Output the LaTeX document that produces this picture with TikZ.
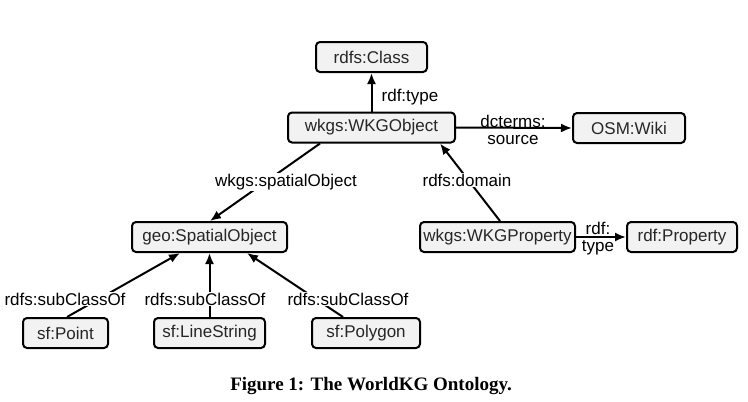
\documentclass[tikz,border=0pt]{standalone}
\usepackage{fontspec}
\setmainfont{Liberation Sans}
\newfontfamily\capfont{Liberation Serif}
\usetikzlibrary{arrows.meta}
\definecolor{boxfill}{HTML}{F2F2F2}
\tikzset{
  cbox/.style={draw=black, line width=2pt, rounded corners=4pt, fill=boxfill,
    minimum height=30pt, inner sep=0pt, font=\fontsize{17}{18}\selectfont, text=black!85},
  arr/.style={line width=2pt, -{Latex[length=11pt,width=9pt]}},
  lbl/.style={font=\fontsize{17}{18}\selectfont, inner sep=1pt, fill=white},
  lbl2/.style={font=\fontsize{17}{18}\selectfont, inner sep=0pt, align=center}
}
\begin{document}
\begin{tikzpicture}[x=1pt,y=-1pt]
\useasboundingbox (0,0) rectangle (748,402);
\node[cbox, minimum width=111pt] (cls) at (371.5,57) {rdfs:Class};
\node[cbox, minimum width=167pt] (obj) at (371.5,127.5) {wkgs:WKGObject};
\node[cbox, minimum width=112pt] (wiki) at (629,128) {OSM:Wiki};
\node[cbox, minimum width=155pt] (geo) at (209.5,237) {geo:SpatialObject};
\node[cbox, minimum width=155pt] (prop) at (497.5,237) {wkgs:WKGProperty};
\node[cbox, minimum width=110pt] (rprop) at (682,237) {rdf:Property};
\node[cbox, minimum width=85pt] (pt) at (65.5,333) {sf:Point};
\node[cbox, minimum width=111pt] (ls) at (209.5,333) {sf:LineString};
\node[cbox, minimum width=108pt] (poly) at (366,333) {sf:Polygon};

\draw[arr] (obj.north) -- (cls.south);
\node[lbl2] (l1) at (410,97) {rdf:type};

\draw[arr] (obj.east) -- (wiki.west);
\node[lbl2] (l2) at (513,130) {dcterms:\\[-1pt]source};

\draw[arr] ([xshift=-51.5pt]obj.south) -- ([xshift=0.5pt]geo.north);
\node[lbl] (l3) at (286,182) {wkgs:spatialObject};

\draw[arr] ([xshift=2.5pt]prop.north) -- ([xshift=68.5pt]obj.south);
\node[lbl] (l4) at (467,180) {rdfs:domain};

\draw[arr] (prop.east) -- (rprop.west);
\node[lbl2] (l5) at (598,239) {rdf:\\[-1pt]type};

\draw[arr] ([xshift=1.5pt]pt.north) -- ([xshift=-29.5pt]geo.south);
\draw[arr] (ls.north) -- (geo.south);
\draw[arr] ([xshift=-23pt]poly.north) -- ([xshift=37.5pt]geo.south);
\node[lbl] (l6) at (65,299) {rdfs:subClassOf};
\node[lbl] (l7) at (205,299) {rdfs:subClassOf};
\node[lbl] (l8) at (348,299) {rdfs:subClassOf};

\node[font=\capfont\bfseries\fontsize{19}{22}\selectfont, inner sep=0pt] (cap) at (371,386) {Figure 1: The WorldKG Ontology.};
\end{tikzpicture}
\end{document}
